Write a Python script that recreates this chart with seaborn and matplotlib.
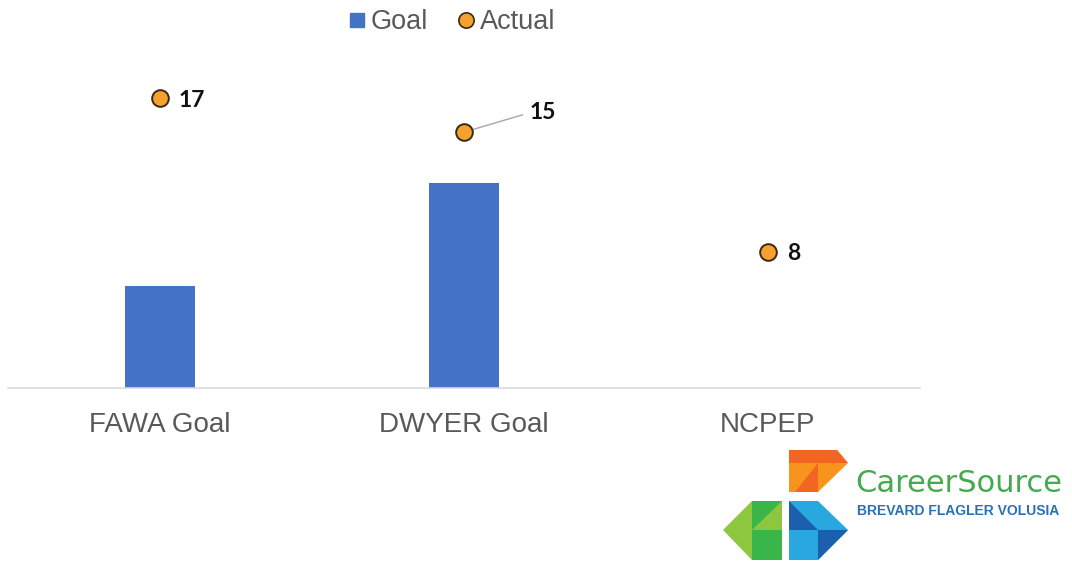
import matplotlib
matplotlib.use("Agg")
import matplotlib.pyplot as plt
from matplotlib.lines import Line2D
from matplotlib.patches import Polygon
import seaborn as sns
import pandas as pd
import numpy as np

categories = ["FAWA Goal", "DWYER Goal", "NCPEP"]
goal = [6, 12, 0]
actual = [17, 15, 8]
actual_labels = ["17", "15", "8"]

BAR = "#4472C4"
DOT = "#F5A12F"
DOT_EDGE = "#3A2A12"
GRAY = "#595959"

sns.set_theme(style="white")
plt.rcParams["font.family"] = ["Liberation Sans", "DejaVu Sans"]

df = pd.DataFrame({"cat": categories, "goal": goal, "actual": actual})

fig = plt.figure(figsize=(10.72, 5.61), dpi=100)
ax = fig.add_axes([8 / 1072, 173 / 561, 912 / 1072, 341.2 / 561])

sns.barplot(data=df, x="cat", y="goal", color=BAR, width=0.233,
            saturation=1, linewidth=0, ax=ax, zorder=2)
sns.stripplot(data=df, x="cat", y="actual", jitter=False, size=12,
              color=DOT, edgecolor=DOT_EDGE, linewidth=1.4, ax=ax, zorder=4)

ax.set_xlim(-0.5, 2.5)
ax.set_ylim(0, 20)
ax.set_xlabel("")
ax.set_ylabel("")
ax.set_yticks([])
for s in ["top", "right", "left"]:
    ax.spines[s].set_visible(False)
ax.spines["bottom"].set_color("#D9D9D9")
ax.spines["bottom"].set_linewidth(1.2)
ax.tick_params(axis="x", length=0, pad=17.5, labelsize=20, labelcolor=GRAY)

lab_font = dict(family=["Lato", "DejaVu Sans"], weight="bold", size=16.5, color="#111111")
for i, (v, t) in enumerate(zip(actual, actual_labels)):
    if i == 1:
        ax.annotate(t, xy=(i, v), xytext=(47.5, 14), textcoords="offset points",
                    ha="left", va="center",
                    arrowprops=dict(arrowstyle="-", color="#A6A6A6", lw=1,
                                    shrinkA=3, shrinkB=7, relpos=(0, 0.5)),
                    **lab_font)
    else:
        ax.annotate(t, xy=(i, v), xytext=(13.5, -1.5), textcoords="offset points",
                    ha="left", va="center", **lab_font)

handles = [
    Line2D([], [], marker="s", linestyle="none", markersize=10,
           markerfacecolor=BAR, markeredgecolor=BAR),
    Line2D([], [], marker="o", linestyle="none", markersize=11,
           markerfacecolor=DOT, markeredgecolor=DOT_EDGE, markeredgewidth=1.2),
]
fig.legend(handles, ["Goal", "Actual"], loc="center", bbox_to_anchor=(451 / 1072, 1 - 22 / 561),
           ncol=2, frameon=False, fontsize=19.5, labelcolor=GRAY,
           handletextpad=0.1, columnspacing=1.0, handlelength=0.8)

# Logo (CareerSource Brevard Flagler Volusia)
def P(pts, color):
    poly = Polygon([(x / 1072, 1 - y / 561) for x, y in pts], closed=True,
                   transform=fig.transFigure, facecolor=color, edgecolor="none")
    fig.add_artist(poly)

# orange
P([(789, 450), (837, 450), (848, 463), (818, 492), (789, 492)], "#F7941D")
P([(789, 450), (837, 450), (848, 463), (789, 463)], "#F26522")
P([(795, 492), (818, 463), (818, 492)], "#F26522")
# green
P([(782, 501), (752, 501), (723, 530), (752, 560), (782, 560)], "#8DC63F")
P([(752, 501), (782, 501), (752, 530)], "#39B54A")
P([(752, 530), (782, 530), (782, 560), (752, 560)], "#39B54A")
# blue
P([(789, 501), (818, 501), (848, 530), (818, 560), (789, 560)], "#29A8E0")
P([(789, 501), (789, 530), (818, 530)], "#1C5FAE")
P([(818, 530), (848, 530), (818, 560)], "#1C5FAE")

fig.text(855 / 1072, 1 - 484 / 561, "CareerSource", family="DejaVu Sans",
         fontsize=22, color="#44AA4E", ha="left", va="center")
fig.text(857 / 1072, 1 - 511 / 561, "BREVARD FLAGLER VOLUSIA", family="Liberation Sans",
         fontsize=10, weight="bold", color="#2A72B8", ha="left", va="center")

fig.savefig("out.png", dpi=100)
